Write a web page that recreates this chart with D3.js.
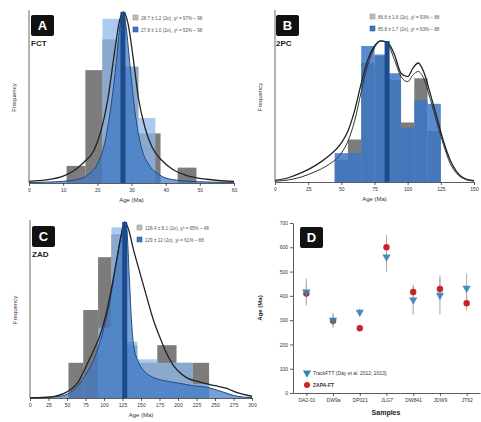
<!DOCTYPE html>
<html>
<head>
<meta charset="utf-8">
<script src="https://cdn.jsdelivr.net/npm/d3@7"></script>
<style>
  body { margin: 0; background: #fff; }
  svg { font-family: "Liberation Sans", Arial, sans-serif; }
  .axis text { font-size: 5px; fill: #333; }
  .axis path, .axis line { stroke: #333; stroke-width: 0.8; }
</style>
</head>
<body>
<svg id="vis" width="481" height="422"></svg>
<script>
// ---- data (ages in Ma, frequencies in relative units 0-10) ----

// A: FCT
const fctGrayBins = [[11, 16.5, 1.0], [16.5, 21.5, 6.6], [21.5, 27, 8.4], [27, 32, 6.8], [32, 38.5, 2.9], [43.5, 49, 0.9]];
const fctBlueBins = [[21.5, 27, 9.6], [27, 32, 6.8], [32, 37, 3.8]];
const fctBlueCurve = [[0, 0.02], [5, 0.05], [10, 0.1], [15, 0.25], [18, 0.6], [20, 1.1], [22, 2.2], [24, 4.5], [25.5, 7], [26.5, 9], [27.5, 10], [28.5, 9], [29.5, 7], [31, 4.2], [33, 2], [35, 1.1], [38, 0.5], [42, 0.2], [50, 0.07], [60, 0.03]];
const fctBlackCurve = [[0, 0.1], [5, 0.18], [10, 0.4], [13, 0.7], [16, 1.2], [19, 1.9], [21, 3.0], [23, 4.8], [25, 7.6], [26.5, 9.5], [27.7, 10], [29, 9.3], [30.5, 7.3], [32, 5.0], [34, 3.2], [36, 2.1], [39, 1.3], [42, 0.8], [46, 0.45], [52, 0.22], [60, 0.1]];
const fctMean = 27.5;
const fctTicks = [0, 10, 20, 30, 40, 50, 60];
const fctLegend = ['28.7 ± 1.2 (2σ), χ² = 97% – 98', '27.8 ± 1.0 (2σ), χ² = 92% – 98'];

// B: 2PC
const pcGrayBins = [[45, 55, 1.3], [55, 65, 2.5], [65, 75, 7.0], [75, 85, 7.4], [85, 95, 6.0], [95, 105, 3.5], [105, 115, 6.1], [115, 125, 3.0]];
const pcBlueBins = [[45, 55, 1.7], [55, 65, 1.7], [65, 75, 8.0], [75, 85, 7.5], [85, 95, 6.4], [95, 105, 3.2], [105, 115, 4.8], [115, 125, 4.6]];
const pcBlueCurve = [[0, 0.05], [10, 0.12], [20, 0.3], [30, 0.6], [40, 1.0], [50, 1.7], [55, 2.4], [60, 3.6], [65, 5.3], [70, 6.9], [75, 7.9], [80, 8.3], [85, 8.1], [90, 7.2], [95, 6.2], [100, 5.9], [104, 6.3], [108, 6.5], [112, 6.1], [117, 4.9], [122, 3.5], [127, 2.2], [132, 1.1], [137, 0.5], [142, 0.2], [150, 0.05]];
const pcBlackCurve = [[0, 0.1], [10, 0.25], [20, 0.55], [30, 0.95], [40, 1.5], [50, 2.3], [55, 3.0], [60, 4.2], [65, 5.8], [70, 7.2], [75, 8.0], [80, 8.3], [85, 8.2], [90, 7.5], [95, 6.4], [100, 6.2], [104, 6.7], [108, 7.0], [112, 6.5], [117, 5.2], [122, 3.8], [127, 2.4], [132, 1.3], [137, 0.6], [142, 0.25], [150, 0.08]];
const pcMean = 84.5;
const pcTicks = [0, 25, 50, 75, 100, 125, 150];
const pcLegend = ['86.6 ± 1.6 (2σ), χ² = 93% – 88', '85.8 ± 1.7 (2σ), χ² = 93% – 88'];

// C: ZAD
const zadGrayBins = [[52, 72, 2.0], [72, 92, 5.0], [92, 110, 8.0], [110, 128, 9.3], [128, 145, 3.0], [145, 172, 2.0], [172, 198, 3.0], [198, 220, 2.0], [220, 242, 2.0]];
const zadBlueBins = [[92, 110, 4.0], [110, 128, 9.7], [128, 145, 3.2], [145, 172, 2.2], [172, 198, 2.0], [198, 220, 2.0], [220, 242, 0.8]];
const zadBlueCurve = [[0, 0.01], [40, 0.1], [60, 0.5], [75, 1.3], [90, 2.6], [100, 4.0], [108, 5.5], [115, 7.3], [121, 8.8], [126, 9.8], [128, 10], [131, 9.5], [134, 7.0], [137, 4.5], [140, 3.0], [147, 2.0], [155, 1.5], [165, 1.2], [180, 1.0], [200, 0.85], [220, 0.7], [240, 0.6], [260, 0.35], [280, 0.1], [300, 0.02]];
const zadBlackCurve = [[0, 0.02], [25, 0.05], [50, 0.35], [65, 0.9], [77, 1.9], [87, 2.8], [95, 3.6], [103, 4.8], [110, 6.2], [117, 7.8], [123, 9.2], [128, 10], [133, 9.6], [140, 8.4], [150, 6.9], [158, 5.7], [167, 4.4], [176, 3.4], [185, 2.5], [193, 1.9], [210, 1.2], [230, 0.9], [250, 0.7], [266, 0.55], [280, 0.3], [300, 0.1]];
const zadMean = 128;
const zadTicks = [0, 25, 50, 75, 100, 125, 150, 175, 200, 225, 250, 275, 300];
const zadLegend = ['128.4 ± 8.1 (2σ), χ² = 65% – 48', '129 ± 12 (2σ), χ² = 61% – 88'];

// D: sample ages
const samples = ['DA2-01', 'DW9a', 'DP021', 'JLG7', 'DW841', 'JDW9', 'JT62'];
const trackAge = [416, 300, 333, 560, 383, 403, 432];
const trackErr = [55, 30, 15, 60, 60, 80, 60];
const zapaAge = [410, 297, 267, 600, 416, 428, 370];
const zapaErr = [40, 25, 15, 50, 30, 45, 30];
const ageTicks = [0, 100, 200, 300, 400, 500, 600, 700];
const seriesNames = ['TrackFTT (Day et al. 2012; 2013)', 'ZAPA-FT'];

// ---- drawing ----
const svg = d3.select('#vis');
const grayFill = '#6e6e6e';
const lightBlue = '#8fb8ea';
const midBlue = '#3c78c6';
const darkBlue = '#1d4a8a';

function panelLabel(x, y, letter, name) {
  svg.append('rect').attr('x', x).attr('y', y).attr('width', 23).attr('height', 21)
    .attr('rx', 2).attr('fill', '#111');
  svg.append('text').attr('x', x + 11.5).attr('y', y + 15).attr('text-anchor', 'middle')
    .attr('fill', '#fff').style('font-size', '13px').style('font-weight', 'bold').text(letter);
  if (name) {
    svg.append('text').attr('x', x).attr('y', y + 31).attr('fill', '#222')
      .style('font-size', '8px').style('font-weight', 'bold').text(name);
  }
}

function histPanel(cfg) {
  const x = d3.scaleLinear().domain(cfg.domain).range([cfg.left, cfg.right]);
  const y = d3.scaleLinear().domain([0, 10]).range([cfg.base, cfg.top]);
  const g = svg.append('g');

  // Gray histogram
  g.selectAll('rect.gray')
    .data(cfg.gray)
    .enter()
    .append('rect')
    .attr('x', (d) => x(d[0]))
    .attr('width', (d) => x(d[1]) - x(d[0]))
    .attr('y', (d) => y(d[2]))
    .attr('height', (d) => y(0) - y(d[2]))
    .attr('fill', grayFill)
    .attr('opacity', 0.9);

  // Blue histogram
  g.selectAll('rect.blue')
    .data(cfg.blue)
    .enter()
    .append('rect')
    .attr('x', (d) => x(d[0]))
    .attr('width', (d) => x(d[1]) - x(d[0]))
    .attr('y', (d) => y(d[2]))
    .attr('height', (d) => y(0) - y(d[2]))
    .attr('fill', cfg.fill ? lightBlue : midBlue)
    .attr('opacity', cfg.fill ? 0.75 : 0.85);

  const area = d3.area()
    .x((d) => x(d[0]))
    .y0(y(0))
    .y1((d) => y(d[1]))
    .curve(d3.curveMonotoneX);

  const line = d3.line()
    .x((d) => x(d[0]))
    .y((d) => y(d[1]))
    .curve(d3.curveMonotoneX);

  if (cfg.fill) {
    g.append('path')
      .datum(cfg.blueCurve)
      .attr('fill', midBlue)
      .attr('opacity', 0.7)
      .attr('d', area);
  }

  g.append('path')
    .datum(cfg.blueCurve)
    .attr('fill', 'none')
    .attr('stroke', cfg.fill ? darkBlue : '#333')
    .attr('stroke-width', 1)
    .attr('d', line);

  g.append('path')
    .datum(cfg.blackCurve)
    .attr('fill', 'none')
    .attr('stroke', '#222')
    .attr('stroke-width', 1.3)
    .attr('d', line);

  // Mean line
  const peak = d3.max(cfg.blackCurve, (d) => d[1]);
  g.append('line')
    .attr('x1', x(cfg.mean)).attr('x2', x(cfg.mean))
    .attr('y1', y(0)).attr('y2', y(peak))
    .attr('stroke', darkBlue)
    .attr('stroke-width', 5);

  // Axes
  g.append('g')
    .attr('class', 'axis')
    .attr('transform', `translate(0, ${cfg.base})`)
    .call(d3.axisBottom(x).tickValues(cfg.ticks).tickSize(3).tickSizeOuter(0).tickPadding(2));

  g.append('line')
    .attr('x1', cfg.left).attr('x2', cfg.left)
    .attr('y1', cfg.base).attr('y2', cfg.top - 2)
    .attr('stroke', '#444').attr('stroke-width', 0.8);

  g.append('text')
    .attr('x', (cfg.left + cfg.right) / 2)
    .attr('y', cfg.base + 19)
    .attr('text-anchor', 'middle')
    .style('font-size', '6px').attr('fill', '#333')
    .text('Age (Ma)');

  g.append('text')
    .attr('transform', `translate(${cfg.left - 13}, ${(cfg.base + cfg.top) / 2}) rotate(-90)`)
    .attr('text-anchor', 'middle')
    .style('font-size', '6px').attr('fill', '#333')
    .text('Frequency');

  // Legend
  cfg.legend.forEach((txt, i) => {
    const ly = cfg.legendY + i * 12;
    g.append('rect')
      .attr('x', cfg.legendX).attr('y', ly - 4).attr('width', 5).attr('height', 5)
      .attr('fill', i === 0 ? '#bdbdbd' : midBlue)
      .attr('stroke', i === 0 ? '#888' : darkBlue).attr('stroke-width', 0.5);
    g.append('text')
      .attr('x', cfg.legendX + 8).attr('y', ly + 1)
      .style('font-size', '4.6px').attr('fill', '#555')
      .text(txt);
  });
}

histPanel({
  left: 29, right: 234, top: 12, base: 183, domain: [0, 60], fill: true,
  gray: fctGrayBins, blue: fctBlueBins, blueCurve: fctBlueCurve, blackCurve: fctBlackCurve,
  mean: fctMean, ticks: fctTicks, legend: fctLegend, legendX: 133, legendY: 19,
});
panelLabel(31, 15, 'A', 'FCT');

histPanel({
  left: 275, right: 474, top: 12, base: 182, domain: [0, 150], fill: false,
  gray: pcGrayBins, blue: pcBlueBins, blueCurve: pcBlueCurve, blackCurve: pcBlackCurve,
  mean: pcMean, ticks: pcTicks, legend: pcLegend, legendX: 370, legendY: 18,
});
panelLabel(276, 15, 'B', '2PC');

histPanel({
  left: 30, right: 252, top: 222, base: 398, domain: [0, 300], fill: true,
  gray: zadGrayBins, blue: zadBlueBins, blueCurve: zadBlueCurve, blackCurve: zadBlackCurve,
  mean: zadMean, ticks: zadTicks, legend: zadLegend, legendX: 137, legendY: 229,
});
panelLabel(32, 226, 'C', 'ZAD');

// ---- Panel D ----
const dx = d3.scalePoint().domain(samples).range([293, 480]).padding(0.5);
const dy = d3.scaleLinear().domain([0, 700]).range([393, 223]);
const gd = svg.append('g');

gd.append('g')
  .attr('class', 'axis')
  .attr('transform', 'translate(293, 0)')
  .call(d3.axisLeft(dy).tickValues(ageTicks).tickSize(3).tickSizeOuter(0).tickPadding(2));

gd.append('g')
  .attr('class', 'axis')
  .attr('transform', 'translate(0, 393)')
  .call(d3.axisBottom(dx).tickSize(3).tickSizeOuter(0).tickPadding(2));

gd.append('text')
  .attr('x', 386).attr('y', 415).attr('text-anchor', 'middle')
  .style('font-size', '7px').style('font-weight', 'bold').attr('fill', '#222')
  .text('Samples');

gd.append('text')
  .attr('transform', 'translate(262, 308) rotate(-90)')
  .attr('text-anchor', 'middle')
  .style('font-size', '6px').style('font-weight', 'bold').attr('fill', '#222')
  .text('Age (Ma)');

const trackColor = '#3b82b0';
const zapaColor = '#c8252b';

// Error bars
samples.forEach((s, i) => {
  gd.append('line')
    .attr('x1', dx(s)).attr('x2', dx(s))
    .attr('y1', dy(trackAge[i] - trackErr[i])).attr('y2', dy(trackAge[i] + trackErr[i]))
    .attr('stroke', '#9aa8b8').attr('stroke-width', 1);
  gd.append('line')
    .attr('x1', dx(s)).attr('x2', dx(s))
    .attr('y1', dy(zapaAge[i] - zapaErr[i])).attr('y2', dy(zapaAge[i] + zapaErr[i]))
    .attr('stroke', '#d49a9a').attr('stroke-width', 1);
});

const tri = d3.symbol().type(d3.symbolTriangle).size(30);

gd.selectAll('circle.zapa')
  .data(samples)
  .enter()
  .append('circle')
  .attr('cx', (d) => dx(d))
  .attr('cy', (d, i) => dy(zapaAge[i]))
  .attr('r', 3.2)
  .attr('fill', zapaColor);

gd.selectAll('path.track')
  .data(samples)
  .enter()
  .append('path')
  .attr('d', tri)
  .attr('transform', (d, i) => `translate(${dx(d)}, ${dy(trackAge[i])}) rotate(180)`)
  .attr('fill', trackColor)
  .attr('opacity', 0.9);

// Legend
gd.append('path').attr('d', tri).attr('fill', trackColor)
  .attr('transform', 'translate(307, 373) rotate(180)');
gd.append('circle').attr('cx', 307).attr('cy', 385).attr('r', 3).attr('fill', zapaColor);
seriesNames.forEach((name, i) => {
  gd.append('text')
    .attr('x', 313).attr('y', 375 + i * 12)
    .style('font-size', '5px').attr('fill', '#333')
    .style('font-weight', i === 1 ? 'bold' : 'normal')
    .text(name);
});

panelLabel(300, 227, 'D', null);
</script>
</body>
</html>
